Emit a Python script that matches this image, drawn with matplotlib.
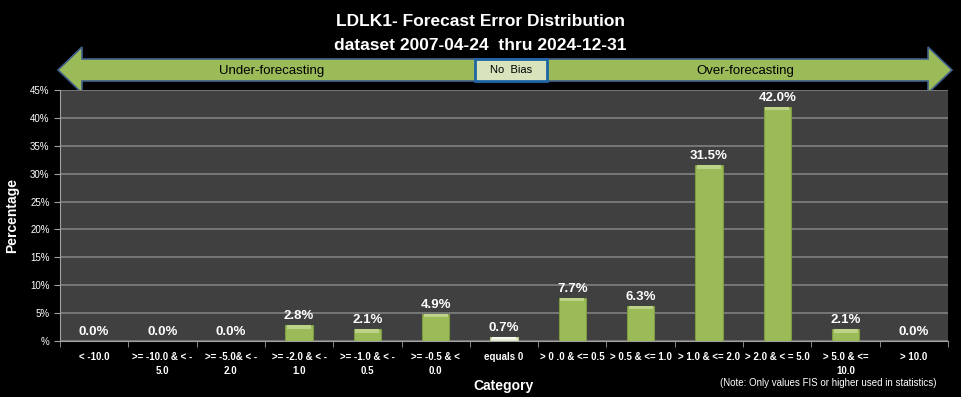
import matplotlib.pyplot as plt
from matplotlib.patches import Polygon, Rectangle
from matplotlib.ticker import FuncFormatter
import numpy as np

categories = ['< -10.0', '>= -10.0 & < -\n5.0', '>= -5.0& < -\n2.0', '>= -2.0 & < -\n1.0',
              '>= -1.0 & < -\n0.5', '>= -0.5 & <\n0.0', 'equals 0', '> 0 .0 & <= 0.5',
              '> 0.5 & <= 1.0', '> 1.0 & <= 2.0', '> 2.0 & < = 5.0', '> 5.0 & <=\n10.0', '> 10.0']
values = [0.0, 0.0, 0.0, 2.8, 2.1, 4.9, 0.7, 7.7, 6.3, 31.5, 42.0, 2.1, 0.0]
title = 'LDLK1- Forecast Error Distribution\ndataset 2007-04-24  thru 2024-12-31'

plt.rcParams['font.family'] = ['Liberation Sans', 'DejaVu Sans']

W, H = 961, 397
fig = plt.figure(figsize=(W / 100, H / 100), dpi=100, facecolor='black')

# pixel overlay for decorations (title, arrow banner)
deco = fig.add_axes([0, 0, 1, 1], zorder=0)
deco.set_xlim(0, W)
deco.set_ylim(H, 0)
deco.axis('off')

ax = fig.add_axes([60 / W, 1 - 341 / H, 888 / W, 251 / H], zorder=1)
ax.set_facecolor('#404040')

x = np.arange(len(categories))
bw = 0.4
green = '#9BBB59'
for i, v in enumerate(values):
    pale = categories[i] == 'equals 0'
    face = '#E4EDD2' if pale else green
    edge = '#B5C98E' if pale else '#7E9A45'
    if v > 0:
        ax.bar(x[i], v, bw, color=face, edgecolor=edge, linewidth=0.8, zorder=3)
        # light bevel on top of the bar
        bev = min(0.6, v * 0.4)
        ax.bar(x[i], bev, bw * 0.88, bottom=v - bev,
               color='#BCD387' if not pale else '#F6F9EF', linewidth=0, zorder=4)
    ax.text(x[i], v + 1.6, f'{v:.1f}%', ha='center', va='center', color='white',
            fontsize=9.5, fontweight='bold', zorder=5)

ax.set_xlim(-0.5, len(categories) - 0.5)
ax.set_ylim(0, 45)
ax.set_yticks(np.arange(0, 46, 5))
ax.yaxis.set_major_formatter(FuncFormatter(lambda v, p: '%' if v == 0 else f'{v:.0f}%'))
ax.grid(axis='y', color='#808080', linewidth=1.2, zorder=0)
ax.set_axisbelow(True)
ax.set_xticks(x)
ax.set_xticklabels(categories, fontsize=7, color='white', fontweight='bold', linespacing=1.5)
ax.set_xticks(np.arange(-0.5, len(categories)), minor=True)
ax.tick_params(axis='x', which='major', length=0, pad=8)
ax.tick_params(axis='x', which='minor', length=4, color='#A0A0A0')
ax.tick_params(axis='y', labelsize=7, colors='white', length=4)
ax.tick_params(axis='y', color='#A0A0A0')
for s in ['top', 'right']:
    ax.spines[s].set_visible(False)
ax.spines['left'].set_color('#A0A0A0')
ax.spines['bottom'].set_color('#A0A0A0')
ax.set_xlabel('Category', color='white', fontsize=10, fontweight='bold', labelpad=2)
ax.set_ylabel('Percentage', color='white', fontsize=10, fontweight='bold', labelpad=8)

fig.text(0.5, 1 - 34 / H, title, ha='center', va='center', color='white',
         fontsize=12.5, fontweight='bold', linespacing=1.75)
fig.text(937 / W, 1 - 383 / H, '(Note: Only values FIS or higher used in statistics)',
         ha='right', va='center', color='white', fontsize=7)

# double-headed arrow banner
arrow = [(58, 70), (82, 47), (82, 59), (928, 59), (928, 47), (952, 70),
         (928, 93), (928, 81), (82, 81), (82, 93)]
deco.add_patch(Polygon(arrow, closed=True, facecolor=green, edgecolor='#3F5F8A', linewidth=1.2))
deco.add_patch(Rectangle((475, 59), 72, 22, facecolor='#D7E4BC', edgecolor='#1F66A6', linewidth=2))
deco.text(511, 70, 'No  Bias', ha='center', va='center', fontsize=8, color='black')
deco.text(272, 71, 'Under-forecasting', ha='center', va='center', fontsize=9.5, color='black')
deco.text(745, 71, 'Over-forecasting', ha='center', va='center', fontsize=9.5, color='black')

fig.savefig('out.png', dpi=100, facecolor='black')
